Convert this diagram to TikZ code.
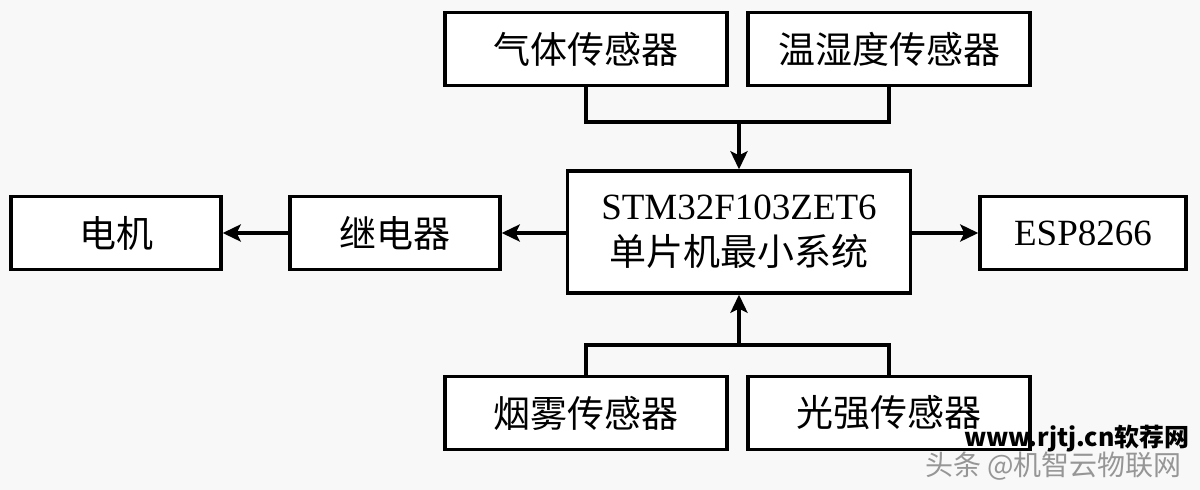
\documentclass[tikz,border=0pt]{standalone}
\usepackage{fontspec}
\setmainfont{Liberation Serif}
\newfontfamily\cjk{Noto Sans CJK SC}
\usetikzlibrary{arrows.meta}
\definecolor{bgc}{RGB}{248,248,248}
\definecolor{wmgray}{RGB}{150,150,150}
\begin{document}
\begin{tikzpicture}[x=1pt,y=-1pt,
  blk/.style={draw=black, line width=3.4pt, rectangle, inner sep=0pt, fill=white},
  sen/.style={blk, minimum width=282pt, minimum height=73pt},
  sml/.style={blk, minimum width=210pt, minimum height=73pt},
  lnk/.style={line width=3.4pt},
  arr/.style={line width=3.4pt, -{Stealth[length=18pt,width=17pt,inset=4pt]}},
  cjkt/.style={font=\cjk\fontsize{37}{44}\selectfont},
  lat/.style={font=\fontsize{37}{44}\selectfont}]
\path[use as bounding box, fill=bgc] (0,0) rectangle (1200,490);

\node[sen, cjkt] (qt) at (586,49) {气体传感器};
\node[sen, cjkt] (wsd) at (889,49) {温湿度传感器};
\node[blk, minimum width=343pt, minimum height=122pt, align=center, font=\fontsize{37}{46}\selectfont] (mcu) at (739,232)
  {STM32F103ZET6\\{\cjk 单片机最小系统}};
\node[sml, cjkt] (dj) at (116,233) {电机};
\node[sml, cjkt] (jdq) at (395,233) {继电器};
\node[blk, minimum width=206pt, minimum height=73pt, lat] (esp) at (1083,233) {ESP8266};
\node[sen, cjkt] (yw) at (586,413) {烟雾传感器};
\node[sen, cjkt] (gq) at (889,413) {光强传感器};

\coordinate (tj) at (739,122);
\coordinate (bj) at (739,345);

\draw[lnk] (qt.south) -- (qt.south |- tj) -- (wsd.south |- tj) -- (wsd.south);
\draw[arr] (tj) -- (mcu.north);
\draw[lnk] (yw.north) -- (yw.north |- bj) -- (gq.north |- bj) -- (gq.north);
\draw[arr] (bj) -- (mcu.south);
\draw[arr] (mcu.west |- jdq.east) -- (jdq.east);
\draw[arr] (jdq.west) -- (dj.east);
\draw[arr] (mcu.east |- esp.west) -- (esp.west);

\node[anchor=east, text=black, font=\cjk\bfseries\fontsize{25}{27}\selectfont, inner sep=0pt] (wm1) at (1190,439) {www.rjtj.cn软荐网};
\node[anchor=east, text=wmgray, font=\cjk\fontsize{28}{30}\selectfont, inner sep=0pt] (wm2) at (1182,466) {头条 @机智云物联网};
\end{tikzpicture}
\end{document}
